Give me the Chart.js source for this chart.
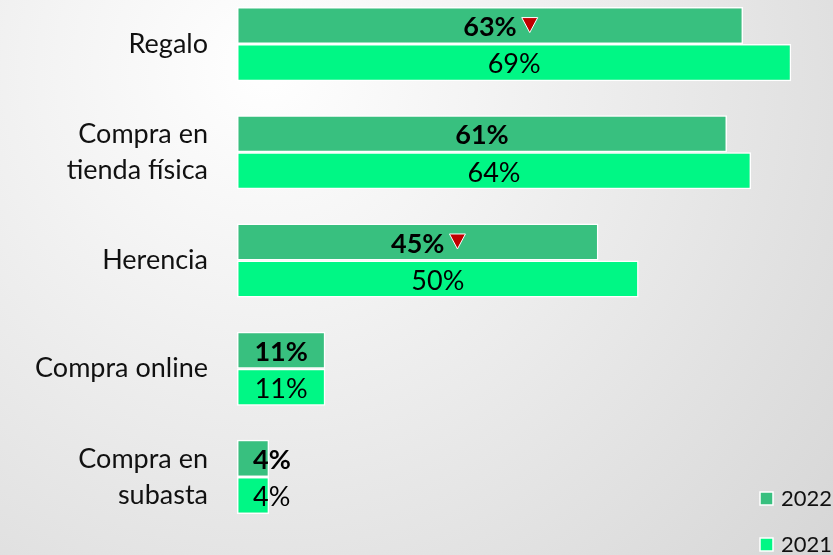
<!DOCTYPE html>
<html>
<head>
<meta charset="utf-8">
<script src="https://cdn.jsdelivr.net/npm/chart.js@4"></script>
<style>
  html, body { margin: 0; padding: 0; }
  body {
    width: 833px; height: 555px; overflow: hidden; position: relative;
    background: radial-gradient(circle at 32% 12%, #ffffff 0%, #f4f4f4 28%, #d6d6d6 100%);
  }
  #wrap { position: absolute; left: 0; top: -10px; width: 833px; height: 565px; }
</style>
</head>
<body>
<div id="wrap"><canvas id="chart"></canvas></div>
<script>
const categories = ["Regalo", ["Compra en", "tienda física"], "Herencia", "Compra online", ["Compra en", "subasta"]];
const values2022 = [63, 61, 45, 11, 4];
const values2021 = [69, 64, 50, 11, 4];
const down2022 = [true, false, true, false, false];
const seriesNames = ["2022", "2021"];
const colors = ["#38c07f", "#00f785"];

const FONT = "Lato, 'Open Sans', sans-serif";

const valueLabels = {
    id: "valueLabels",
    afterDatasetsDraw(chart) {
        const ctx = chart.ctx;
        ctx.save();
        ctx.textBaseline = "middle";
        chart.data.datasets.forEach((ds, di) => {
            const meta = chart.getDatasetMeta(di);
            ctx.font = (di === 0 ? "bold " : "") + "27px " + FONT;
            meta.data.forEach((bar, i) => {
                const text = ds.data[i] + "%";
                const w = ctx.measureText(text).width;
                const cx = (bar.base + bar.x) / 2;
                // text that does not fit starts at the middle of the bar
                const tx = w > bar.x - bar.base ? cx : cx - w / 2;
                ctx.textAlign = "left";
                ctx.fillStyle = "#000";
                ctx.fillText(text, tx, bar.y + 2);
                if (di === 0 && down2022[i]) {
                    const x0 = tx + w + 5;
                    const y0 = bar.y - 8;
                    ctx.beginPath();
                    ctx.moveTo(x0, y0);
                    ctx.lineTo(x0 + 16, y0);
                    ctx.lineTo(x0 + 8, y0 + 15);
                    ctx.closePath();
                    ctx.fillStyle = "#c00000";
                    ctx.fill();
                    ctx.strokeStyle = "#ffffff";
                    ctx.lineWidth = 1;
                    ctx.stroke();
                }
            });
        });
        ctx.restore();
    }
};

const cornerLegend = {
    id: "cornerLegend",
    afterDraw(chart) {
        const ctx = chart.ctx;
        ctx.save();
        ctx.font = "22px " + FONT;
        ctx.textBaseline = "middle";
        ctx.textAlign = "left";
        seriesNames.forEach((name, i) => {
            const y = 502 + i * 46;
            ctx.fillStyle = colors[i];
            ctx.fillRect(760, y, 13, 13);
            ctx.strokeStyle = "#ffffff";
            ctx.lineWidth = 1.5;
            ctx.strokeRect(760, y, 13, 13);
            ctx.fillStyle = "#111";
            ctx.fillText(name, 781, y + 7);
        });
        ctx.restore();
    }
};

new Chart(document.getElementById("chart"), {
    type: "bar",
    data: {
        labels: categories,
        datasets: [
            { label: seriesNames[0], data: values2022, backgroundColor: colors[0] },
            { label: seriesNames[1], data: values2021, backgroundColor: colors[1] }
        ]
    },
    options: {
        indexAxis: "y",
        responsive: true,
        maintainAspectRatio: false,
        animation: false,
        layout: { padding: { top: 0, bottom: 24, right: 0, left: 0 } },
        datasets: {
            bar: {
                categoryPercentage: 0.685,
                barPercentage: 1,
                borderColor: "#ffffff",
                borderWidth: 1.5,
                borderSkipped: false
            }
        },
        scales: {
            x: {
                min: 0,
                max: 74.2,
                display: false
            },
            y: {
                afterFit: (scale) => {
                    scale.width = 237;
                    scale.paddingTop = 0;
                    scale.paddingBottom = 0;
                },
                grid: { display: false, drawTicks: false },
                border: { display: false },
                ticks: {
                    padding: 29,
                    color: "#111",
                    font: { family: FONT, size: 27, lineHeight: 1.33 }
                }
            }
        },
        plugins: {
            legend: { display: false },
            tooltip: { enabled: false }
        }
    },
    plugins: [valueLabels, cornerLegend]
});
</script>
</body>
</html>
